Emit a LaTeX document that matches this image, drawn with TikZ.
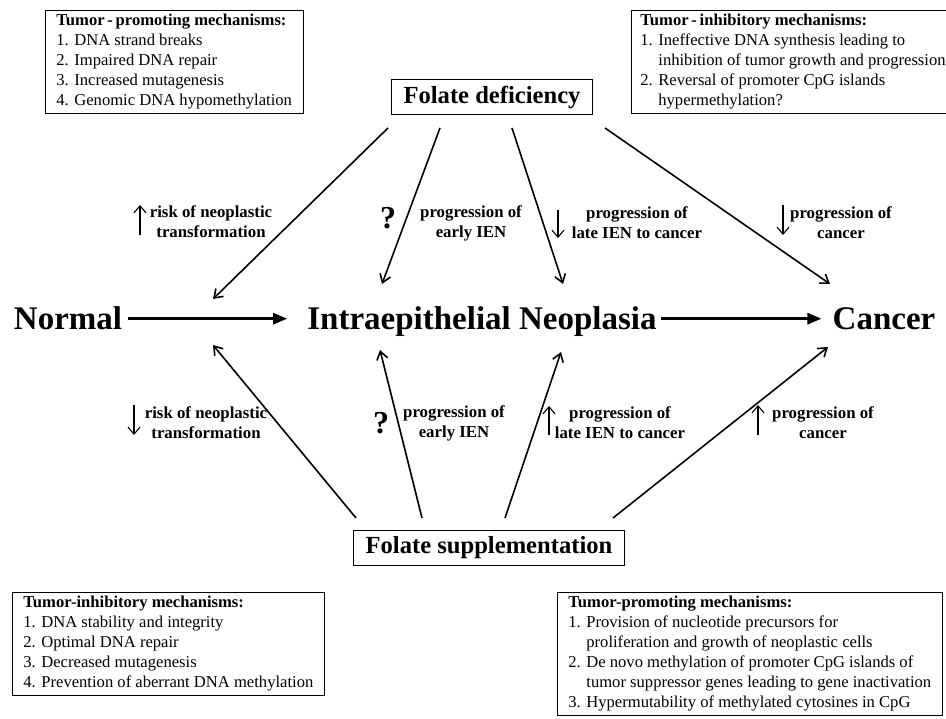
\documentclass[tikz,border=0pt]{standalone}
\usepackage{fontspec}
\setmainfont{Liberation Serif}
\usetikzlibrary{arrows.meta}

\begin{document}
\begin{tikzpicture}[x=1pt, y=-1pt,
	mech/.style = {draw, line width=0.8pt, anchor=north west, align=left, inner xsep=11pt, inner ysep=4pt, font=\fontsize{16.6}{20}\selectfont},
	stage/.style = {font=\fontsize{33}{38}\selectfont\bfseries, inner sep=0pt, anchor=base},
	folate/.style = {draw, line width=0.8pt, font=\fontsize{24.6}{28}\selectfont\bfseries, inner xsep=12pt, inner ysep=6pt},
	effect/.style = {font=\fontsize{16.8}{20}\selectfont\bfseries, align=center, inner sep=0pt},
	query/.style = {font=\fontsize{32}{34}\selectfont\bfseries, inner sep=0pt},
	link/.style = {line width=1.6pt, -{Straight Barb[length=8pt, width=11pt]}},
	flow/.style = {line width=2.6pt, -{Triangle[length=14pt, width=11pt]}},
	trend/.style = {line width=1.1pt, -{Straight Barb[length=7pt, width=12pt]}}
]
	\useasboundingbox (0,0) rectangle (946,719);
	\clip (0,0) rectangle (946,719);
	% mechanism boxes
	\node [mech] (defpro) at (45,10) {\textbf{Tumor\,-\,promoting mechanisms:}\\
		1. DNA strand breaks\\
		2. Impaired DNA repair\\
		3. Increased mutagenesis\\
		4. Genomic DNA hypomethylation};
	\node [mech, inner xsep=9pt] (definh) at (631,10) {\textbf{Tumor\,-\,inhibitory mechanisms:}\\
		1. Ineffective DNA synthesis leading to\\
		\phantom{1. }inhibition of tumor growth and progression\\
		2. Reversal of promoter CpG islands\\
		\phantom{2. }hypermethylation?};
	\node [mech] (supinh) at (12,592) {\textbf{Tumor-inhibitory mechanisms:}\\
		1. DNA stability and integrity\\
		2. Optimal DNA repair\\
		3. Decreased mutagenesis\\
		4. Prevention of aberrant DNA methylation};
	\node [mech] (suppro) at (557,592) {\textbf{Tumor-promoting mechanisms:}\\
		1. Provision of nucleotide precursors for\\
		\phantom{1. }proliferation and growth of neoplastic cells\\
		2. De novo methylation of promoter CpG islands of\\
		\phantom{2. }tumor suppressor genes leading to gene inactivation\\
		3. Hypermutability of methylated cytosines in CpG};
	% folate boxes
	\node [folate] (def) at (492,97) {Folate deficiency};
	\node [folate] (sup) at (489,548) {Folate supplementation};
	% stages
	\node [stage] (normal) at (68,330) {Normal};
	\node [stage] (ien) at (482,330) {Intraepithelial Neoplasia};
	\node [stage] (cancer) at (884,330) {Cancer};
	\draw [flow, shorten <=6pt, shorten >=20pt] (normal.east) -- (normal.east -| ien.west);
	\draw [flow, shorten <=4pt, shorten >=11pt] (normal.east -| ien.east) -- (normal.east -| cancer.west);
	% end points of the links
	\coordinate (dA) at (388,128);
	\coordinate (dB) at (440,128);
	\coordinate (dC) at (512,128);
	\coordinate (dD) at (605,128);
	\coordinate (tA) at (213,299);
	\coordinate (tB) at (382,284);
	\coordinate (tC) at (563,284);
	\coordinate (tD) at (830,284);
	\coordinate (sE) at (356,518);
	\coordinate (sF) at (422,518);
	\coordinate (sG) at (505,518);
	\coordinate (sH) at (613,518);
	\coordinate (bE) at (213,345);
	\coordinate (bF) at (380,350);
	\coordinate (bG) at (561,352);
	\coordinate (bH) at (828,347);
	\foreach \s/\t in {dA/tA, dB/tB, dC/tC, dD/tD, sE/bE, sF/bF, sG/bG, sH/bH}
		\draw [link] (\s) -- (\t);
	% effects of deficiency
	\node [effect] (riskup) at (211,222) {risk of neoplastic\\transformation};
	\node [query] (qup) at (388,218) {?};
	\node [effect] (earlyup) at (471,223) {progression of\\early IEN};
	\node [effect] (lateup) at (637,223) {progression of\\late IEN to cancer};
	\node [effect] (cancup) at (841,223) {progression of\\cancer};
	\draw [trend] (140,235) -- (140,205);
	\draw [trend] (558,210) -- (558,238);
	\draw [trend] (783,205) -- (783,235);
	% effects of supplementation
	\node [effect] (riskdown) at (206,423) {risk of neoplastic\\transformation};
	\node [query] (qdown) at (381,423) {?};
	\node [effect] (earlydown) at (454,423) {progression of\\early IEN};
	\node [effect] (latedown) at (620,423) {progression of\\late IEN to cancer};
	\node [effect] (cancdown) at (823,423) {progression of\\cancer};
	\draw [trend] (134,405) -- (134,435);
	\draw [trend] (549,435) -- (549,406);
	\draw [trend] (758,435) -- (758,405);
\end{tikzpicture}
\end{document}
